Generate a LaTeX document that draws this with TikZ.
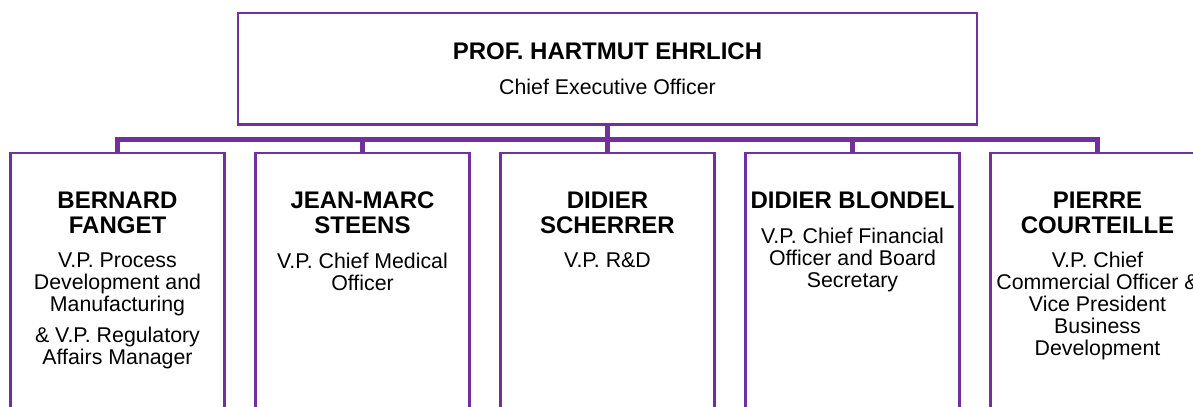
\documentclass[tikz,border=0pt]{standalone}
\usepackage{fontspec}
\setmainfont{Liberation Sans}
\usepackage{tikz}
\usetikzlibrary{positioning}
\definecolor{orgpurple}{HTML}{7030A0}

\begin{document}
\begin{tikzpicture}[x=0.75pt,y=-0.75pt,
  orgbox/.style={rectangle,draw=orgpurple,line width=1.75pt,fill=white,inner sep=0pt,outer sep=0pt},
  vpbox/.style={orgbox,minimum width=160.5pt,minimum height=207.5pt},
  nametxt/.style={align=center,inner sep=0pt,font=\fontsize{18}{18.75}\selectfont\bfseries},
  roletxt/.style={align=center,inner sep=0pt,font=\fontsize{16}{16.5}\selectfont},
  busline/.style={draw=orgpurple,line width=4pt,line join=miter},
  stub/.style={draw=orgpurple,line width=3.5pt}]
\useasboundingbox (0,0) rectangle (1193,407);
\clip (0,0) rectangle (1193,407);

\node[orgbox,minimum width=554.6pt,minimum height=83.8pt] (ceo) at (607.5,68.65) {};
\node[vpbox] (vpA) at (117.5,291.65) {};
\node[vpbox] (vpB) at (362.5,291.65) {};
\node[vpbox] (vpC) at (607.5,291.65) {};
\node[vpbox] (vpD) at (852.5,291.65) {};
\node[vpbox] (vpE) at (1097.5,291.65) {};

\coordinate (busmid) at (607.5,139.5);
\draw[busline] (vpA.north) |- (busmid) -| (vpE.north);
\draw[stub] (ceo.south) -- (busmid);
\draw[stub] (vpB.north) -- (vpB.north |- busmid);
\draw[stub] (vpC.north) -- (busmid);
\draw[stub] (vpD.north) -- (vpD.north |- busmid);

\node[nametxt,below=22.5pt of ceo.north] (nCeo) {PROF. HARTMUT EHRLICH};
\node[roletxt,below=13.5pt of nCeo] (rCeo) {Chief Executive Officer};

\node[nametxt,below=28.9pt of vpA.north] (nA) {BERNARD\\FANGET};
\node[roletxt,below=13.5pt of nA] (rA) {V.P. Process\\Development and\\Manufacturing\\[6.75pt]\& V.P. Regulatory\\Affairs Manager};

\node[nametxt,below=28.9pt of vpB.north] (nB) {JEAN-MARC\\STEENS};
\node[roletxt,below=13.5pt of nB] (rB) {V.P. Chief Medical\\Officer};

\node[nametxt,below=28.9pt of vpC.north] (nC) {DIDIER\\SCHERRER};
\node[roletxt,below=13.5pt of nC] (rC) {V.P. R\&D};

\node[nametxt,below=28.9pt of vpD.north] (nD) {DIDIER BLONDEL};
\node[roletxt,below=13.5pt of nD] (rD) {V.P. Chief Financial\\Officer and Board\\Secretary};

\node[nametxt,below=28.9pt of vpE.north] (nE) {PIERRE\\COURTEILLE};
\node[roletxt,below=13.5pt of nE] (rE) {V.P. Chief\\Commercial Officer \&\\Vice President\\Business\\Development};
\end{tikzpicture}
\end{document}
